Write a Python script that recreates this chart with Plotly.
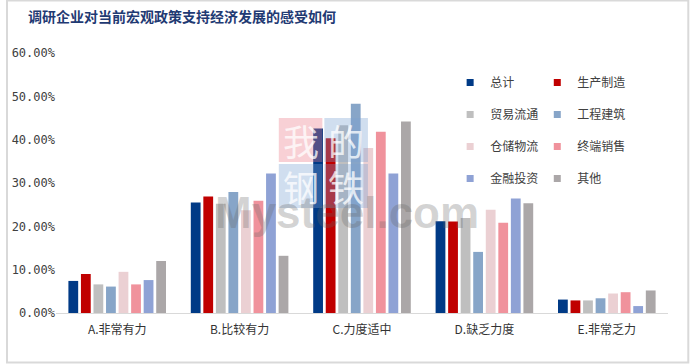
import plotly.graph_objects as go

categories = ["A.非常有力", "B.比较有力", "C.力度适中", "D.缺乏力度", "E.非常乏力"]
series_names = ["总计", "生产制造", "贸易流通", "工程建筑", "仓储物流", "终端销售", "金融投资", "其他"]
total = [0.074, 0.255, 0.426, 0.212, 0.031]
manufacturing = [0.090, 0.269, 0.403, 0.211, 0.029]
trade = [0.066, 0.252, 0.433, 0.219, 0.029]
construction = [0.061, 0.279, 0.483, 0.141, 0.034]
logistics = [0.095, 0.237, 0.381, 0.238, 0.045]
retail = [0.066, 0.259, 0.418, 0.208, 0.048]
finance = [0.076, 0.322, 0.322, 0.264, 0.016]
other = [0.120, 0.132, 0.442, 0.253, 0.052]
y_ticks = [0, 0.1, 0.2, 0.3, 0.4, 0.5, 0.6]

series_values = [total, manufacturing, trade, construction, logistics, retail, finance, other]
colors = ["#003A86", "#C00000", "#BFBFBF", "#87A5C8", "#EBD0D3", "#F0929C", "#8FA2D5", "#ABA7A8"]
legend_ids = ["legend", "legend2", "legend", "legend2", "legend", "legend2", "legend", "legend2"]

fig = go.Figure()
for i, (name, vals) in enumerate(zip(series_names, series_values)):
    fig.add_trace(go.Bar(
        x=categories, y=vals, name=name, marker_color=colors[i],
        marker_line_width=0, showlegend=False, legendgroup=name,
        hovertemplate="%{x}<br>" + name + ": %{y:.2%}<extra></extra>",
    ))
# legend entries with small square swatches
for i, name in enumerate(series_names):
    fig.add_trace(go.Scatter(
        x=[None], y=[None], mode="markers", name=name, legendgroup=name,
        legend=legend_ids[i],
        marker=dict(symbol="square", size=7, color=colors[i]),
    ))

W, H = 690, 364
ml, mr, mt, mb = 50, 22, 53, 51
pw, ph = W - ml - mr, H - mt - mb

def px(x):
    return (x - ml) / pw

def py(y):
    return (H - mb - y) / ph

legend_font = dict(family="Noto Sans CJK SC", size=12, color="#404040")
fig.update_layout(
    width=W, height=H,
    margin=dict(l=ml, r=mr, t=mt, b=mb),
    paper_bgcolor="white", plot_bgcolor="white",
    barmode="group", bargap=0.18, bargroupgap=0.22,
    font=dict(family="Noto Sans CJK SC", size=12, color="#404040"),
    title=dict(text="<b>调研企业对当前宏观政策支持经济发展的感受如何</b>",
               x=28 / W, xanchor="left", y=1 - 17 / H, yanchor="middle",
               font=dict(family="Noto Sans CJK SC", size=14, color="#1F3A73")),
    legend=dict(x=px(448), y=py(68), xanchor="left", yanchor="top",
                bgcolor="rgba(0,0,0,0)", font=legend_font, tracegroupgap=13,
                itemwidth=30, traceorder="grouped"),
    legend2=dict(x=px(536), y=py(68), xanchor="left", yanchor="top",
                 bgcolor="rgba(0,0,0,0)", font=legend_font, tracegroupgap=13,
                 itemwidth=30, traceorder="grouped"),
    xaxis=dict(showline=True, linecolor="#D9D9D9", linewidth=1, ticks="",
               ticklabelstandoff=6,
               tickfont=dict(family="Noto Sans CJK SC", size=12, color="#333333"),
               showgrid=False),
    yaxis=dict(range=[0, 0.6], tickvals=y_ticks, tickformat=".2%", showgrid=False,
               zeroline=False, showline=False, ticks="",
               tickfont=dict(family="DejaVu Sans Mono", size=12, color="#404040")),
)

# frame and watermark
shapes = [
    dict(type="rect", xref="paper", yref="paper", x0=px(0.5), x1=px(W - 1.5), y0=py(H - 1.5), y1=py(0.5),
         line=dict(color="#D9D9D9", width=2), fillcolor="rgba(0,0,0,0)", layer="above"),
]
boxes = [(275, 118, "rgba(235,120,135,0.35)", "我"), (321, 118, "rgba(120,160,210,0.35)", "的"),
         (275, 164, "rgba(120,160,210,0.35)", "钢"), (321, 164, "rgba(120,160,210,0.35)", "铁")]
annotations = []
for x0, y0, c, t in boxes:
    shapes.append(dict(type="rect", xref="paper", yref="paper", x0=px(x0), x1=px(x0 + 44),
                       y0=py(y0 + 44), y1=py(y0), line_width=0, fillcolor=c, layer="above"))
    annotations.append(dict(text=t, xref="paper", yref="paper", x=px(x0 + 22), y=py(y0 + 22),
                            showarrow=False, font=dict(family="Noto Sans CJK SC", size=36,
                            color="rgba(255,255,255,0.75)")))
annotations.append(dict(text="<b>Mysteel.com</b>", xref="paper", yref="paper", x=px(344), y=py(212),
                        showarrow=False, font=dict(family="Liberation Sans", size=44,
                        color="rgba(100,100,100,0.28)")))
fig.update_layout(shapes=shapes, annotations=annotations)

fig.write_html("out.html", config={"displayModeBar": False},
               post_script="document.body.style.margin='0';document.body.style.padding='0';")
